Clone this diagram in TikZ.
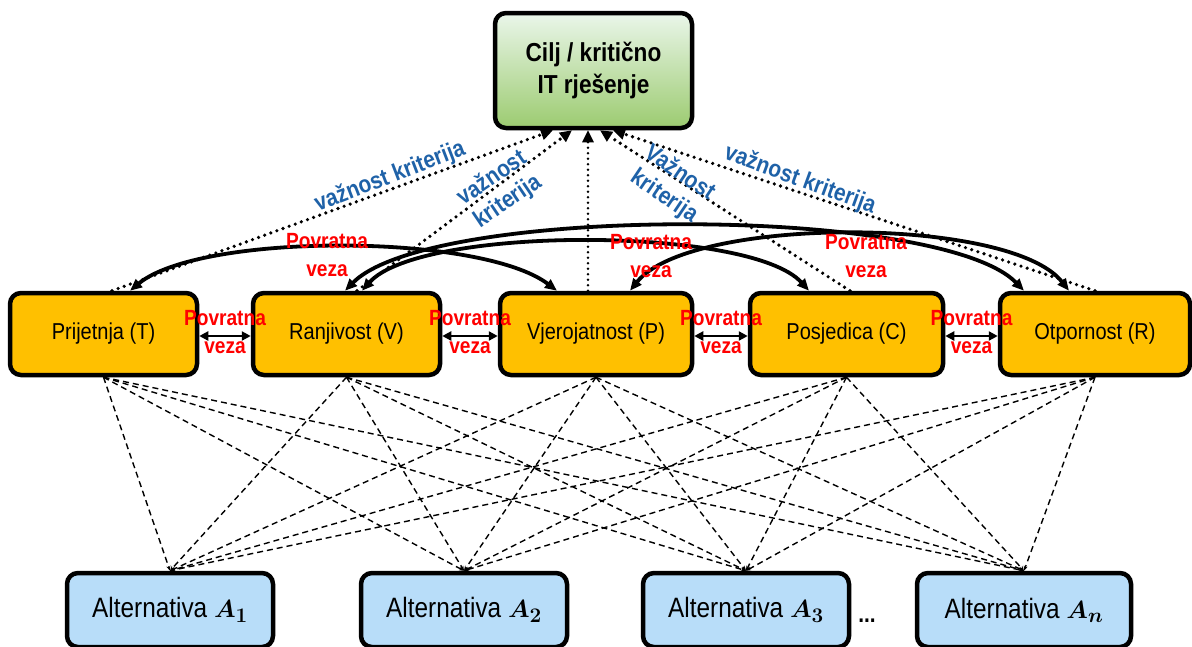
\documentclass[tikz,border=0pt]{standalone}
\usepackage[no-math]{fontspec}
\setmainfont{Liberation Sans}[FakeStretch=0.87]
\usepackage{amsmath,bm}
\usetikzlibrary{arrows.meta,calc}
\definecolor{critfill}{HTML}{FFC000}
\definecolor{altfill}{HTML}{B8DDF9}
\definecolor{goaltop}{HTML}{EAF6EA}
\definecolor{goalbot}{HTML}{9CCB70}
\definecolor{impblue}{HTML}{1F62A8}
\tikzset{
  box/.style={draw, line width=4.5pt, rounded corners=11pt, inner sep=0pt, align=center},
  goalbox/.style={box, top color=goaltop, bottom color=goalbot, minimum width=197pt, minimum height=115pt, font=\bfseries\fontsize{26}{32}\selectfont},
  crit/.style={box, fill=critfill, minimum height=82pt, font=\fontsize{23}{28}\selectfont},
  alt/.style={box, fill=altfill, minimum height=74pt, minimum width=206pt, font=\fontsize{28}{34}\selectfont},
  fb/.style={line width=3.8pt, arrows={Triangle[length=12pt,width=10pt]-Triangle[length=12pt,width=10pt]}},
  hfb/.style={line width=2.5pt, arrows={Triangle[length=9pt,width=9pt]-Triangle[length=9pt,width=9pt]}},
  dotarrow/.style={line width=3.6pt, line cap=round, dash pattern=on 0pt off 6.5pt, arrows={-Triangle[length=12pt,width=11pt]}},
  dashline/.style={line width=1.4pt, dash pattern=on 6pt off 4pt, arrows={-Stealth[length=5pt,width=4pt]}},
  redlbl/.style={text=red, font=\bfseries\fontsize{22}{28}\selectfont, align=center, inner sep=0pt},
  bluelbl/.style={text=impblue, font=\bfseries\fontsize{24}{28}\selectfont, align=center, inner sep=0pt}
}
\begin{document}
\begin{tikzpicture}[x=1pt,y=-1pt]
\useasboundingbox (0,0) rectangle (1192,646);
% nodes
\node[goalbox] (goal) at (593.5,70.5) {Cilj / kritično\\IT rješenje};
\node[crit, minimum width=187pt] (T) at (103.5,334) {Prijetnja (T)};
\node[crit, minimum width=187pt] (V) at (346.5,334) {Ranjivost (V)};
\node[crit, minimum width=192pt] (P) at (596,334) {Vjerojatnost (P)};
\node[crit, minimum width=193pt] (C) at (846.5,334) {Posjedica (C)};
\node[crit, minimum width=190pt] (R) at (1095,334) {Otpornost (R)};
\node[alt] (A1) at (170,610) {Alternativa $\boldsymbol{A_1}$};
\node[alt] (A2) at (464,610) {Alternativa $\boldsymbol{A_2}$};
\node[alt] (A3) at (746,610) {Alternativa $\boldsymbol{A_3}$};
\node[alt, minimum width=214pt] (An) at (1024,610) {Alternativa $\boldsymbol{A_n}$};
\node[font=\bfseries\fontsize{24}{26}\selectfont, inner sep=0pt] (dots) at (867,621) {...};
% dashed criteria -> alternatives
\foreach \c in {T,V,P,C,R}{
  \foreach \a in {A1,A2,A3,An}{
    \draw[dashline] (\c.south) -- (\a.north);
  }
}
% dotted importance arrows
\draw[dotarrow] ([xshift=8.5pt]T.north) -- ([xshift=-40.5pt]goal.south);
\draw[dotarrow] ([xshift=10.5pt]V.north) -- ([xshift=-21.5pt]goal.south);
\draw[dotarrow, line width=2.6pt, dash pattern=on 0pt off 5.5pt] ([xshift=-8pt]P.north) -- ([xshift=-5.5pt]goal.south);
\draw[dotarrow] ([xshift=3.5pt]C.north) -- ([xshift=6.5pt]goal.south);
\draw[dotarrow] (R.north) -- ([xshift=19.5pt]goal.south);
% feedback arcs
\draw[fb] ([xshift=26.5pt]T.north) .. controls +(70,-58) and +(-77,-58) .. ([xshift=-39pt]P.north);
\draw[fb] ([xshift=-1.5pt]V.north) .. controls +(85,-86) and +(-84,-86) .. ([xshift=-71pt]R.north);
\draw[fb] ([xshift=15.5pt]V.north) .. controls +(58,-65) and +(-59,-65) .. ([xshift=-37.5pt]C.north);
\draw[fb] ([xshift=34pt]P.north) .. controls +(60,-75) and +(-59,-75) .. ([xshift=-26pt]R.north);
% horizontal feedback
\draw[hfb] ([yshift=-2pt]T.east) -- ([yshift=-2pt]V.west);
\draw[hfb] ([yshift=-2pt]V.east) -- ([yshift=-2pt]P.west);
\draw[hfb] ([yshift=-2pt]P.east) -- ([yshift=-2pt]C.west);
\draw[hfb] ([yshift=-2pt]C.east) -- ([yshift=-2pt]R.west);
% labels
\node[redlbl] (h1) at ($(T.east)!0.5!(V.west)+(0,-2)$) {Povratna\\veza};
\node[redlbl] (h2) at ($(V.east)!0.5!(P.west)+(0,-2)$) {Povratna\\veza};
\node[redlbl] (h3) at ($(P.east)!0.5!(C.west)+(0,-2)$) {Povratna\\veza};
\node[redlbl] (h4) at ($(C.east)!0.5!(R.west)+(0,-2)$) {Povratna\\veza};
\node[redlbl] (c1) at (327,255) {Povratna\\veza};
\node[redlbl] (c2) at (651,256) {Povratna\\veza};
\node[redlbl] (c3) at (866,256) {Povratna\\veza};
\node[bluelbl, rotate=21] (imp1) at (390,177) {važnost kriterija};
\node[bluelbl, rotate=34] (imp2) at (500,190) {važnost\\kriterija};
\node[bluelbl, rotate=-34] (imp3) at (672,185) {Važnost\\kriterija};
\node[bluelbl, rotate=-20] (imp4) at (800,180) {važnost kriterija};
\end{tikzpicture}
\end{document}
